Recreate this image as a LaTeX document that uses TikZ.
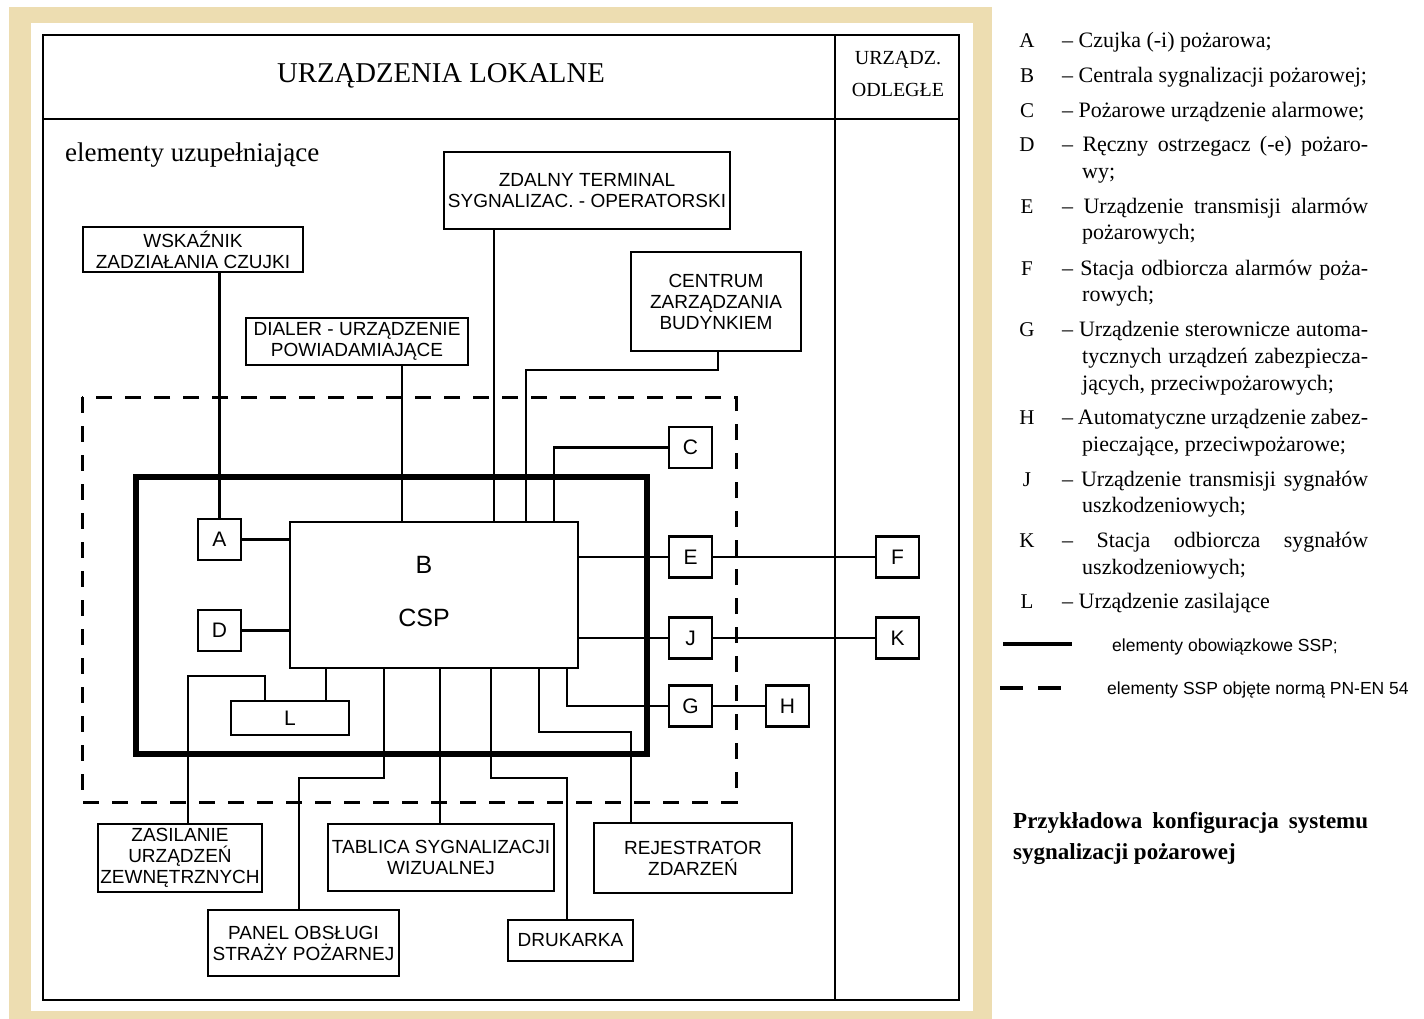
\documentclass[tikz,border=0pt]{standalone}
\usepackage{fontspec}
\setmainfont{Liberation Serif}
\setsansfont{Liberation Sans}
\usepackage{tikz}
\usetikzlibrary{positioning}
\definecolor{framebg}{RGB}{237,221,177}
\tikzset{
    box/.style = {rectangle, draw=black, line width=2.8pt, fill=white, align=center, inner sep=0pt, font=\sffamily\fontsize{19}{21}\selectfont},
    sbox/.style = {box, minimum width=43, minimum height=41, font=\sffamily\fontsize{21}{24}\selectfont},
    wire/.style = {line width=2.6pt},
    key/.style = {anchor=base, inner sep=0pt, font=\fontsize{21}{24}\selectfont},
    desc/.style = {anchor=base west, inner sep=0pt, font=\fontsize{22}{26}\selectfont},
    note/.style = {anchor=base west, inner sep=0pt, font=\sffamily\fontsize{17.5}{20}\selectfont},
}
\newcommand{\justa}[1]{\makebox[306pt][s]{#1}}
\newcommand{\justb}[1]{\makebox[286pt][s]{#1}}

\begin{document}
\begin{tikzpicture}[x=1pt, y=-1pt]
\useasboundingbox (0,0) rectangle (1424,1019);
\fill[framebg] (9,7) rectangle (992,1019);
\fill[white] (31,23) rectangle (973,1011);
%
\draw[line width=2.8pt] (43,35) rectangle (959,1000);
\draw[line width=2.8pt] (43,119) -- (959,119);
\draw[line width=2.8pt] (835,35) -- (835,1000);
\node[anchor=base, font=\fontsize{28.7}{32}\selectfont] (lokalne) at (441,83) {URZĄDZENIA LOKALNE};
\node[anchor=base, font=\fontsize{20}{24}\selectfont] (odl1) at (898,65) {URZĄDZ.};
\node[anchor=base, font=\fontsize{20}{24}\selectfont] (odl2) at (898,97) {ODLEGŁE};
\node[anchor=base west, inner sep=0pt, font=\fontsize{27}{30}\selectfont] (uzup) at (65,162) {elementy uzupełniające};
%
\draw[line width=3pt, dash pattern=on 16pt off 13pt] (82,397) rectangle (736,802);
\draw[line width=5.5pt] (136,477) rectangle (647,754);
%
\node[box, minimum width=286, minimum height=77] (zdalny) at (587,190.5) {ZDALNY TERMINAL\\SYGNALIZAC. - OPERATORSKI};
\node[box, minimum width=220, minimum height=45] (wsk) at (193,249.5) {WSKAŹNIK\\ZADZIAŁANIA CZUJKI};
\node[box, minimum width=222, minimum height=47] (dialer) at (357,341.5) {DIALER - URZĄDZENIE\\POWIADAMIAJĄCE};
\node[box, minimum width=170, minimum height=99] (centrum) at (716,301.5) {CENTRUM\\ZARZĄDZANIA\\BUDYNKIEM};
%
\node[box, minimum width=288, minimum height=146] (b) at (434,595) {};
\node[font=\sffamily\fontsize{25}{28}\selectfont, align=center] (btxt) at (424,592) {B\\[25pt]CSP};
\node[sbox] (a) at (219.5,539.5) {A};
\node[sbox] (d) at (219.5,630.5) {D};
\node[box, minimum width=118, minimum height=34, font=\sffamily\fontsize{21}{24}\selectfont] (l) at (290,718) {L};
\node[sbox] (c) at (690.5,447.5) {C};
\node[sbox] (e) at (690.5,557) {E};
\node[sbox] (j) at (690.5,638) {J};
\node[sbox] (g) at (690.5,706) {G};
\node[sbox] (f) at (897.5,557) {F};
\node[sbox] (k) at (897.5,638) {K};
\node[sbox] (h) at (787.5,706) {H};
%
\node[box, minimum width=164, minimum height=68] (zas) at (180,858) {ZASILANIE\\URZĄDZEŃ\\ZEWNĘTRZNYCH};
\node[box, minimum width=226, minimum height=67] (tab) at (441,857.5) {TABLICA SYGNALIZACJI\\WIZUALNEJ};
\node[box, minimum width=198, minimum height=70] (rej) at (693,858) {REJESTRATOR\\ZDARZEŃ};
\node[box, minimum width=191, minimum height=66] (panel) at (303.5,943) {PANEL OBSŁUGI\\STRAŻY POŻARNEJ};
\node[box, minimum width=125, minimum height=41] (druk) at (570.5,940.5) {DRUKARKA};
%
\draw[wire] (a.north) -- (a.north |- wsk.south);
\draw[wire] (a.east) -- (a.east -| b.west);
\draw[wire] (d.east) -- (d.east -| b.west);
\draw[wire] (dialer.south -| 402,0) -- (b.north -| 402,0);
\draw[wire] (zdalny.south -| 494,0) -- (b.north -| 494,0);
\draw[wire] (centrum.south -| 718,0) |- (526,370) -- (b.north -| 526,0);
\draw[wire] (c.west) -| (b.north -| 554,0);
\draw[wire] (e.west) -- (e.west -| b.east);
\draw[wire] (e.east) -- (f.west);
\draw[wire] (j.west) -- (j.west -| b.east);
\draw[wire] (j.east) -- (k.west);
\draw[wire] (b.south -| 567,0) |- (g.west);
\draw[wire] (g.east) -- (h.west);
%
\draw[wire] (b.south -| 326,0) -- (l.north -| 326,0);
\draw[wire] (l.north -| 265,0) |- (188,676) -- (zas.north -| 188,0);
\draw[wire] (b.south -| 384,0) |- (299,778) -- (panel.north -| 299,0);
\draw[wire] (b.south -| 440,0) -- (tab.north -| 440,0);
\draw[wire] (b.south -| 491,0) |- (567,778) -- (druk.north -| 567,0);
\draw[wire] (b.south -| 539,0) |- (631,732) -- (rej.north -| 631,0);
%
\node[key] (ka) at (1027,48) {A};
\node[desc] (da) at (1062,48) {– Czujka (-i) pożarowa;};
\node[key] (kb) at (1027,83) {B};
\node[desc] (db) at (1062,83) {– Centrala sygnalizacji pożarowej;};
\node[key] (kc) at (1027,118) {C};
\node[desc] (dc) at (1062,118) {– Pożarowe urządzenie alarmowe;};
\node[key] (kd) at (1027,152) {D};
\node[desc] (dd) at (1062,152) {\justa{– Ręczny ostrzegacz (-e) pożaro-}};
\node[desc] (dd2) at (1082,179) {wy;};
\node[key] (ke) at (1027,214) {E};
\node[desc] (de) at (1062,214) {\justa{– Urządzenie transmisji alarmów}};
\node[desc] (de2) at (1082,240) {pożarowych;};
\node[key] (kf) at (1027,275) {F};
\node[desc] (df) at (1062,275) {\justa{– Stacja odbiorcza alarmów poża-}};
\node[desc] (df2) at (1082,301) {rowych;};
\node[key] (kg) at (1027,336) {G};
\node[desc] (dg) at (1062,336) {\justa{– Urządzenie sterownicze automa-}};
\node[desc] (dg2) at (1082,363) {\justb{tycznych urządzeń zabezpiecza-}};
\node[desc] (dg3) at (1082,390) {jących, przeciwpożarowych;};
\node[key] (kh) at (1027,424) {H};
\node[desc] (dh) at (1062,424) {\justa{– Automatyczne urządzenie zabez-}};
\node[desc] (dh2) at (1082,451) {pieczające, przeciwpożarowe;};
\node[key] (kj) at (1027,486) {J};
\node[desc] (dj) at (1062,486) {\justa{– Urządzenie transmisji sygnałów}};
\node[desc] (dj2) at (1082,512) {uszkodzeniowych;};
\node[key] (kk) at (1027,547) {K};
\node[desc] (dk) at (1062,547) {\justa{– Stacja odbiorcza sygnałów}};
\node[desc] (dk2) at (1082,574) {uszkodzeniowych;};
\node[key] (kl) at (1027,608) {L};
\node[desc] (dl) at (1062,608) {– Urządzenie zasilające};
%
\coordinate (s1) at (1003,644);
\coordinate (s2) at (1072,644);
\draw[line width=4.5pt] (s1) -- (s2);
\node[note] (n1) at (1112,651) {elementy obowiązkowe SSP;};
\coordinate (t1) at (1000,688);
\coordinate (t2) at (1062,688);
\draw[line width=4.5pt, dash pattern=on 23pt off 15pt] (t1) -- (t2);
\node[note] (n2) at (1107,694) {elementy SSP objęte normą PN-EN 54};
%
\node[desc, font=\bfseries\fontsize{23}{27}\selectfont] (cap1) at (1013,828) {\makebox[355pt][s]{Przykładowa konfiguracja systemu}};
\node[desc, font=\bfseries\fontsize{23}{27}\selectfont] (cap2) at (1013,859) {sygnalizacji pożarowej};
\end{tikzpicture}
\end{document}
